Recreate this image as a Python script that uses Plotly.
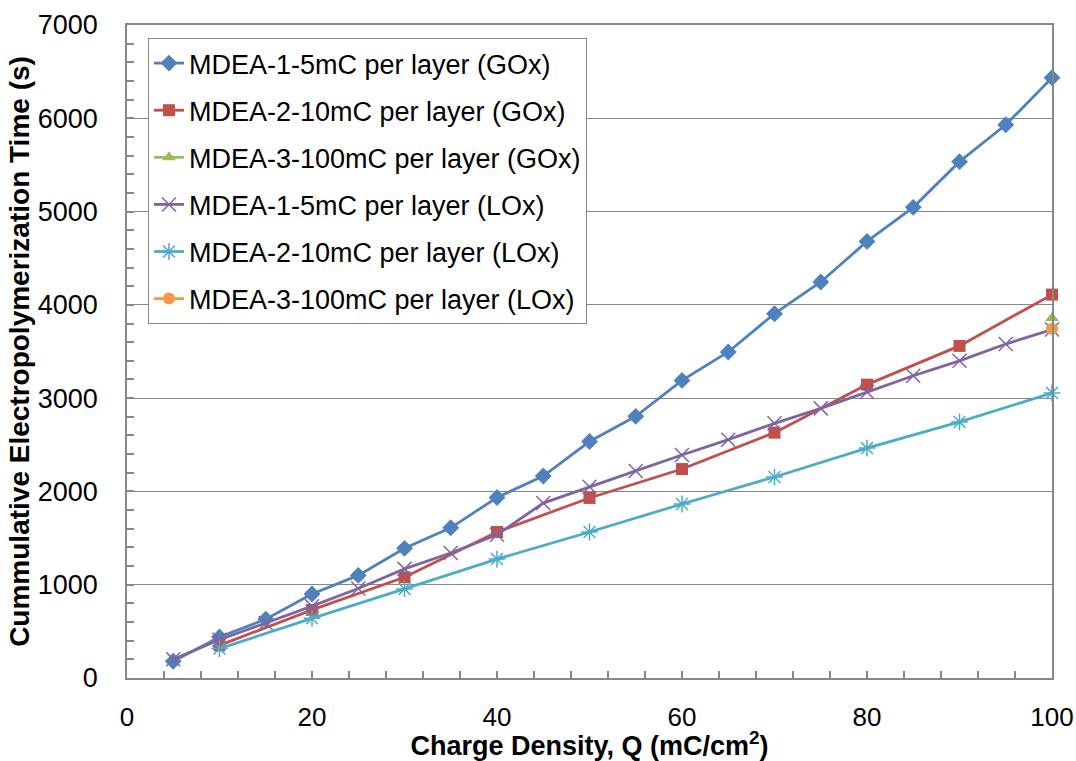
import plotly.graph_objects as go

# Charge density (mC/cm^2) sampling for each deposition protocol
q_5mc = [5, 10, 15, 20, 25, 30, 35, 40, 45, 50, 55, 60, 65, 70, 75, 80, 85, 90, 95, 100]
q_10mc = [10, 20, 30, 40, 50, 60, 70, 80, 90, 100]
q_100mc = [100]

# Cumulative electropolymerization time (s)
t_mdea1_gox = [180, 440, 630, 900, 1100, 1390, 1610, 1935, 2165, 2535, 2805, 3190, 3495, 3905, 4245, 4680, 5045, 5535, 5930, 6435]
t_mdea2_gox = [350, 730, 1080, 1565, 1930, 2240, 2630, 3145, 3560, 4110]
t_mdea3_gox = [3860]
t_mdea1_lox = [200, 410, 590, 770, 960, 1170, 1340, 1535, 1875, 2050, 2220, 2390, 2555, 2730, 2890, 3065, 3240, 3400, 3580, 3735]
t_mdea2_lox = [315, 640, 955, 1275, 1565, 1865, 2155, 2465, 2745, 3055]
t_mdea3_lox = [3745]

series_names = [
    "MDEA-1-5mC per layer (GOx)",
    "MDEA-2-10mC per layer (GOx)",
    "MDEA-3-100mC per layer (GOx)",
    "MDEA-1-5mC per layer (LOx)",
    "MDEA-2-10mC per layer (LOx)",
    "MDEA-3-100mC per layer (LOx)",
]

FONT = "Liberation Sans, Arial, sans-serif"
GRAY = "#878787"

styles = [
    dict(color="#4F81BD", symbol="diamond", size=13, lw=0),
    dict(color="#C0504D", symbol="square", size=12, lw=0),
    dict(color="#9BBB59", symbol="triangle-up", size=12, lw=0),
    dict(color="#8064A2", symbol="x-thin-open", size=14, lw=1.5),
    dict(color="#4BACC6", symbol="asterisk-open", size=14, lw=1.5),
    dict(color="#F79646", symbol="circle", size=12, lw=0),
]

data = [
    (q_5mc, t_mdea1_gox),
    (q_10mc, t_mdea2_gox),
    (q_100mc, t_mdea3_gox),
    (q_5mc, t_mdea1_lox),
    (q_10mc, t_mdea2_lox),
    (q_100mc, t_mdea3_lox),
]

fig = go.Figure()
for i, ((xs, ys), name, st) in enumerate(zip(data, series_names, styles)):
    fig.add_trace(go.Scatter(
        x=xs, y=ys, name=name, mode="lines+markers",
        legendgroup=f"g{i}", cliponaxis=False,
        line=dict(color=st["color"], width=2.8),
        marker=dict(symbol=st["symbol"], size=st["size"], color=st["color"],
                    line=dict(color=st["color"], width=st["lw"])),
    ))

fig.update_layout(
    width=1076, height=761,
    margin=dict(l=127, r=24, t=25, b=83),
    paper_bgcolor="white", plot_bgcolor="white",
    font=dict(family=FONT, size=26, color="black"),
    showlegend=True,
    legend=dict(
        x=0.0227, y=0.98, xanchor="left", yanchor="top",
        bgcolor="white", bordercolor=GRAY, borderwidth=1,
        font=dict(family=FONT, size=27, color="black"),
        traceorder="grouped", tracegroupgap=9,
    ),
    annotations=[dict(
        text="<b>a.</b>", x=1018, y=6780, xref="x", yref="y",
        showarrow=False, font=dict(family=FONT, size=26, color="black"),
    )],
)

fig.update_xaxes(
    range=[0, 100], dtick=20, tick0=0, automargin=False,
    showgrid=False, zeroline=False,
    showline=True, linecolor=GRAY, linewidth=1.5, mirror=True,
    ticks="inside", ticklen=7, tickcolor=GRAY, tickwidth=1.5,
    minor=dict(dtick=4, ticks="inside", ticklen=7, tickcolor=GRAY, tickwidth=1.5, showgrid=False),
    ticklabelstandoff=15,
    tickfont=dict(family=FONT, size=26, color="black"),
    title=dict(text="<b>Charge Density, Q (mC/cm<sup>2</sup>)</b>",
               font=dict(family=FONT, size=27, color="black"), standoff=5),
)

fig.update_yaxes(
    range=[0, 7000], dtick=1000, tick0=0, automargin=False,
    showgrid=True, gridcolor=GRAY, gridwidth=1,
    zeroline=False,
    showline=True, linecolor=GRAY, linewidth=1.5, mirror=True,
    ticks="inside", ticklen=7, tickcolor=GRAY, tickwidth=1.5,
    minor=dict(dtick=200, ticks="inside", ticklen=7, tickcolor=GRAY, tickwidth=1.5, showgrid=False),
    ticklabelstandoff=22,
    tickfont=dict(family=FONT, size=27, color="black"),
    title=dict(text="<b>Cummulative Electropolymerization Time (s)</b>",
               font=dict(family=FONT, size=28, color="black"), standoff=0),
)

fig.write_html("out.html")
